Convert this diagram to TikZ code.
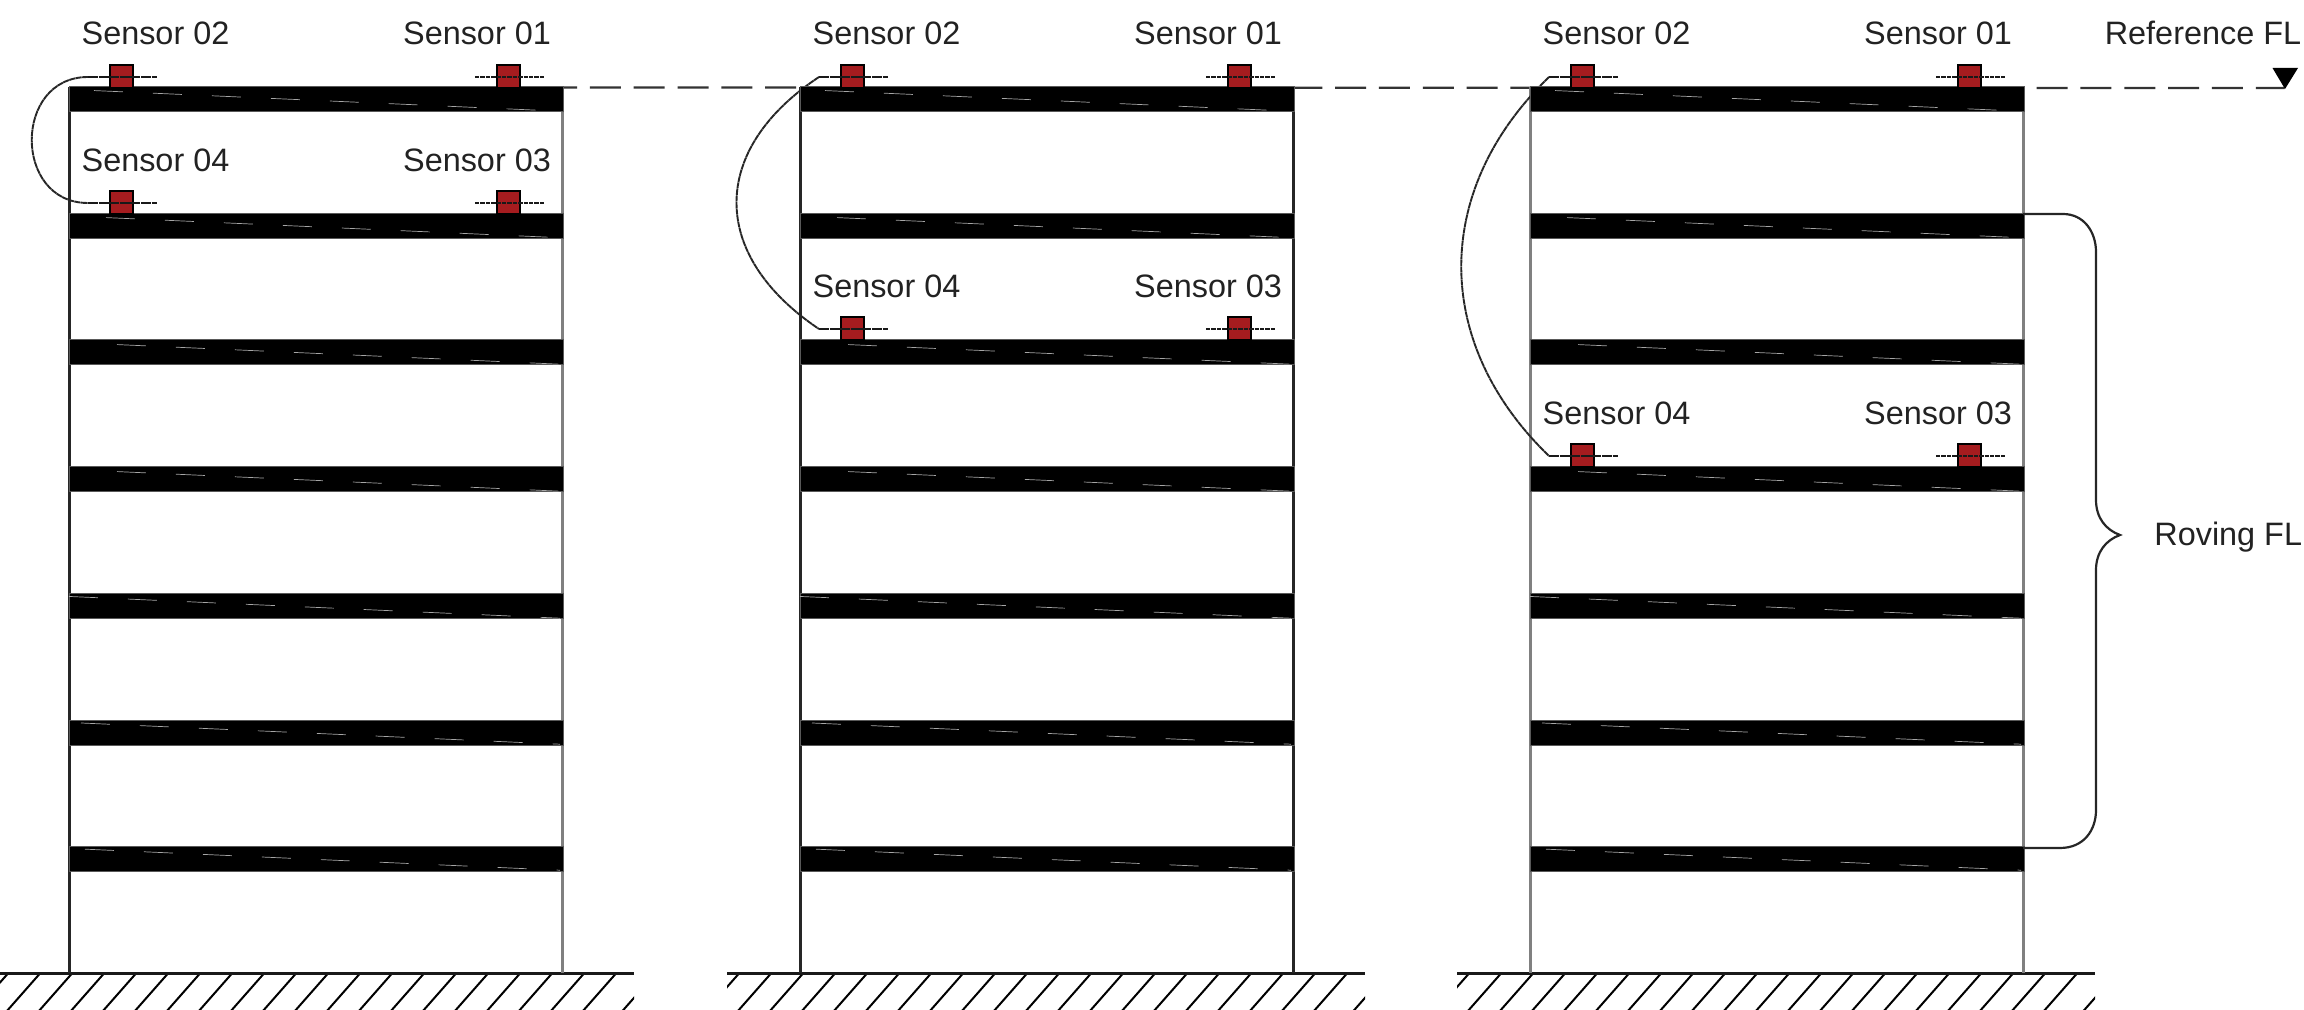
\documentclass[tikz,border=0pt]{standalone}
\usepackage{fontspec}
\setmainfont{Liberation Sans}
\definecolor{sred}{HTML}{A51C1F}
\definecolor{txt}{HTML}{222222}
\tikzset{
  lab/.style={anchor=base,inner sep=0pt,text=txt,font=\fontsize{16.2pt}{19pt}\selectfont},
  sensorbox/.style={draw=black,fill=sred,line width=0.7pt,minimum width=11.5pt,minimum height=11.5pt,inner sep=0pt,shape=rectangle},
  floorbar/.style={fill=black,draw=black!65,line width=0.5pt},
  floorstreak/.style={draw=black!35,line width=0.35pt,dash pattern=on 14.5pt off 15pt},
  wireA/.style={line width=0.85pt,draw=black!90,dash pattern=on 5pt off 0.3pt},
  wireB/.style={line width=0.85pt,draw=black!90,dash pattern=on 2.2pt off 0.5pt},
  cablewire/.style={line width=0.95pt,draw=black!85,dash pattern=on 3pt off 0.25pt},
  groundline/.style={line width=1.1pt,draw=black!90},
  hatchline/.style={line width=1pt,draw=black},
  reflevel/.style={line width=1.15pt,draw=black!80,dash pattern=on 15.5pt off 6.42pt,dash phase=8.5pt},
  bracewire/.style={line width=1.1pt,draw=black!85},
}
\begin{document}
\begin{tikzpicture}[x=0.5pt,y=-0.5pt]
\useasboundingbox (0,0) rectangle (2304,1010);
% reference level
\coordinate (refstart) at (563,87.5);
\node[draw=none,fill=black,shape=rectangle,minimum size=0pt,inner sep=0pt] (reftip) at (2285,88) {};
\draw[reflevel] (refstart) -- (reftip);
\fill[black] (2272.5,68) -- (2298,68) -- (2285,89) -- cycle;
\foreach \bn/\off/\ylow/\wc/\ww/\cc/\cyA/\cyB/\wcr/\wwr in {
   1/0/203/85/1.1/13/77/203/50/1.7,
   2/731/329/85/1.1/-22/150/255/85/1.1,
   3/1461/456/50/1.7/-29/190/343/50/1.7}{
 \begin{scope}[shift={(\off,0)}]
  % ground
  \begin{scope}
   \clip (-4,970) rectangle (634,1010);
   \foreach \xt in {-24.5,7.5,39.5,71.5,103.5,135.5,167.5,199.5,231.5,263.5,295.5,327.5,359.5,391.5,423.5,455.5,487.5,519.5,551.5,583.5,615.5,655}{
     \draw[hatchline] (\xt,974) -- ({\xt-37},1016);
   }
  \end{scope}
  \draw[groundline] (-4,973.5) -- (634,973.5);
  % walls
  \draw[draw=black!\wc,line width=\ww pt] (69.5,87) -- (69.5,973);
  \draw[draw=black!\wcr,line width=\wwr pt] (562.5,87) -- (562.5,973);
  % cable
  \coordinate (c2-\bn) at (88,77);
  \coordinate (c4-\bn) at (88,\ylow);
  \draw[cablewire] (c2-\bn) .. controls (\cc,\cyA) and (\cc,\cyB) .. (c4-\bn);
  % floors
  \foreach \ftop/\xz in {87/94,213.5/106,340/117,467/117,594/69,720/81,846/85}{
    \draw[floorbar] (69,\ftop) rectangle (563,\ftop+25);
    \draw[floorstreak] (\xz,{\ftop+2.5+0.0443*(\xz-70)}) -- (560,{\ftop+2.5+0.0443*490});
  }
  % sensors
  \node[sensorbox] (s2-\bn) at (121.5,76.5) {};
  \node[sensorbox] (s1-\bn) at (508.5,76.5) {};
  \node[sensorbox] (s4-\bn) at (121.5,\ylow-0.5) {};
  \node[sensorbox] (s3-\bn) at (508.5,\ylow-0.5) {};
  \coordinate (e2-\bn) at (157,77);
  \coordinate (e4-\bn) at (157,\ylow);
  \coordinate (w1-\bn) at (475,77);
  \coordinate (e1-\bn) at (544,77);
  \coordinate (w3-\bn) at (475,\ylow);
  \coordinate (e3-\bn) at (544,\ylow);
  \draw[wireA] (c2-\bn) -- (e2-\bn);
  \draw[wireA] (c4-\bn) -- (e4-\bn);
  \draw[wireB] (w1-\bn) -- (e1-\bn);
  \draw[wireB] (w3-\bn) -- (e3-\bn);
  % labels
  \node[lab] (t2-\bn) at (155.5,44.5) {Sensor 02};
  \node[lab] (t1-\bn) at (477,44.5) {Sensor 01};
  \node[lab] (t4-\bn) at (155.5,\ylow-31) {Sensor 04};
  \node[lab] (t3-\bn) at (477,\ylow-31) {Sensor 03};
 \end{scope}
}
% brace
\coordinate (brtop) at (2023,214);
\coordinate (brbot) at (2023,848);
\draw[bracewire] (brtop) -- (2063,214) .. controls (2084,214) and (2096,232) .. (2096,252)
  -- (2096,500) .. controls (2096,518) and (2106,530) .. (2120,535)
  .. controls (2106,540) and (2096,552) .. (2096,570)
  -- (2096,810) .. controls (2096,830) and (2084,848) .. (2060,848) -- (brbot);
\node[lab,anchor=base east] (reflabel) at (2301.5,44.5) {Reference FL};
\node[lab,anchor=base west] (rovlabel) at (2154,545.5) {Roving FL};
\end{tikzpicture}
\end{document}
